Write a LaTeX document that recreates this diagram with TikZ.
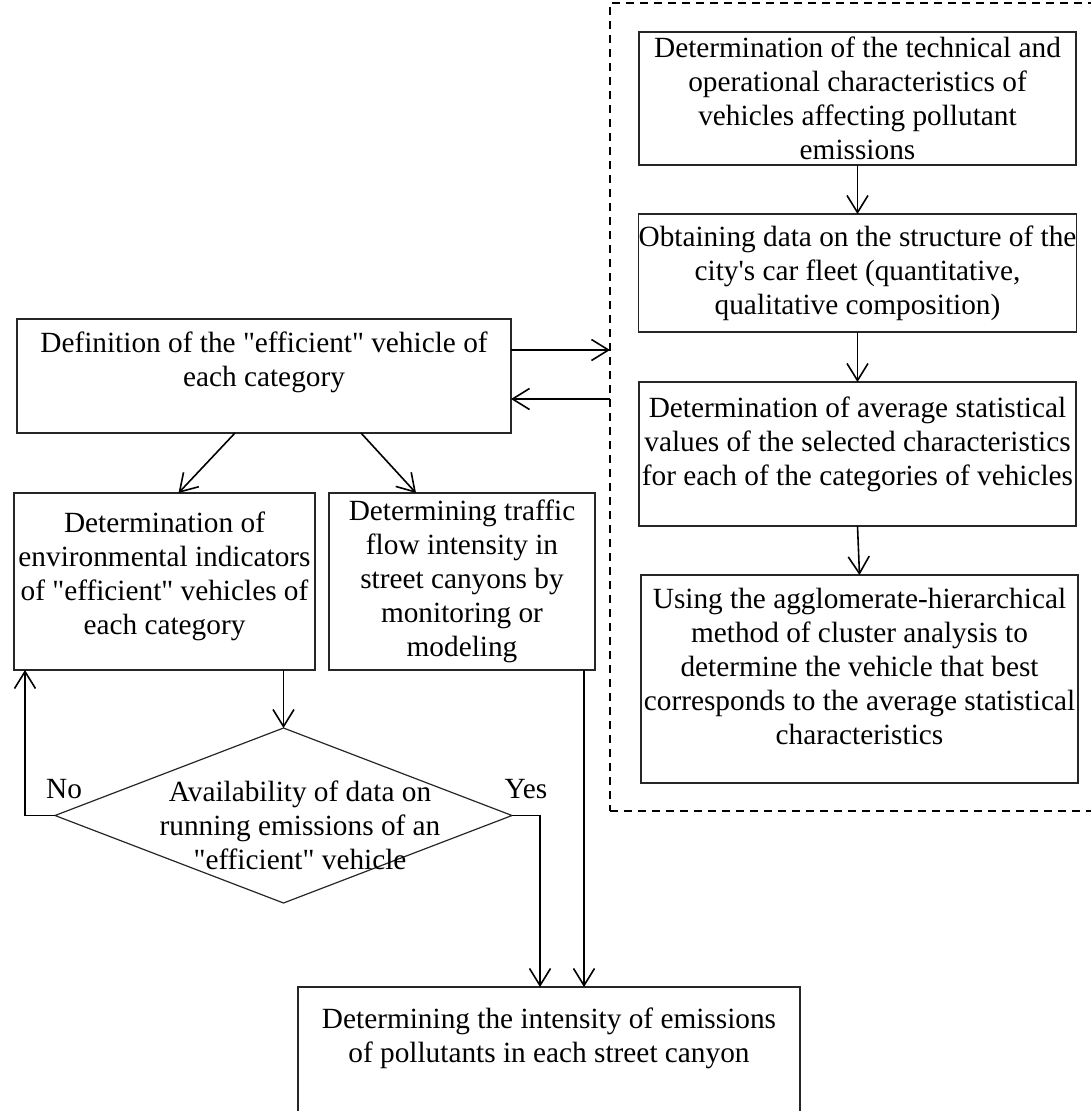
\documentclass[tikz,border=0pt]{standalone}
\usepackage{fontspec}
\setmainfont{Liberation Serif}[Ligatures=TeXOff]
\usetikzlibrary{arrows.meta,shapes.geometric}
\newcommand{\vpad}[1]{\\[#1]\mbox{}}
\begin{document}
\begin{tikzpicture}
        [x=1pt,y=-1pt,
        font=\fontsize{29.3}{34}\selectfont,
        box/.style={rectangle,draw=black!85,line width=1.2pt,inner sep=0pt,outer sep=0pt,align=center},
        decision/.style={diamond,draw=black!85,line width=1.2pt,inner sep=0pt,outer sep=0pt,
            minimum width=457pt,minimum height=175pt},
        group/.style={rectangle,draw=black,line width=1.6pt,dash pattern=on 8pt off 6pt,
            inner sep=0pt,outer sep=0pt,minimum width=490pt,minimum height=808pt},
        arr/.style={line width=1.6pt,-{Straight Barb[length=17pt,width=21pt,line width=1.6pt]}},
        line/.style={line width=1.6pt}]
        \useasboundingbox (0,0) rectangle (1090,1111);
        % dashed frame on the right
        \node[group] (frame) at (855,407) {};
        \node[box,minimum width=437pt,minimum height=133pt] (tech) at (857.5,98.5)
            {Determination of the technical and\\operational characteristics of\\vehicles affecting pollutant\\emissions};
        \node[box,minimum width=437pt,minimum height=118pt] (fleet) at (857.5,273)
            {Obtaining data on the structure of the\\city's car fleet (quantitative,\\qualitative composition)};
        \node[box,minimum width=437pt,minimum height=144pt] (avg) at (857.5,454)
            {Determination of average statistical\\values of the selected characteristics\\for each of the categories of vehicles\vpad{-8pt}};
        \node[box,minimum width=437pt,minimum height=208pt] (cluster) at (859.5,679)
            {Using the agglomerate-hierarchical\\method of cluster analysis to\\determine the vehicle that best\\corresponds to the average statistical\\characteristics\vpad{-8pt}};
        % left column
        \node[box,minimum width=494pt,minimum height=114pt] (defn) at (264,376)
            {Definition of the "efficient" vehicle of\\each category\vpad{0pt}};
        \node[box,minimum width=301pt,minimum height=177pt] (envi) at (164.5,581.5)
            {Determination of\\environmental indicators\\of "efficient" vehicles of\\each category\vpad{-17pt}};
        \node[box,minimum width=266pt,minimum height=177pt] (traffic) at (462,581.5)
            {Determining traffic\\flow intensity in\\street canyons by\\monitoring or\\modeling};
        \node[decision] (avail) at (283.5,815.5) {};
        \node[align=center] (availtext) at (300,825)
            {Availability of data on\\running emissions of an\\"efficient" vehicle};
        \node (no) at (64,789) {No};
        \node (yes) at (526,789) {Yes};
        \node[box,minimum width=502pt,minimum height=143pt] (emis) at (549,1058.5)
            {Determining the intensity of emissions\\of pollutants in each street canyon\vpad{13pt}};
        % connectors
        \draw[arr] (tech.south) -- (fleet.north);
        \draw[arr] (fleet.south) -- (avg.north);
        \draw[arr] (avg.south) -- (cluster.north);
        \draw[arr] ([yshift=26pt]defn.east) -- ([yshift=26pt]defn.east -| frame.west);
        \draw[arr] ([yshift=-23pt]defn.east -| frame.west) -- ([yshift=-23pt]defn.east);
        \draw[arr] ([xshift=-29pt]defn.south) -- ([xshift=14pt]envi.north);
        \draw[arr] ([xshift=97pt]defn.south) -- ([xshift=-46pt]traffic.north);
        \draw[arr] (avail.north |- envi.south) -- (avail.north);
        \draw[arr] (avail.west) -| ([xshift=11pt]envi.south west);
        \draw[arr] (avail.east) -| ([xshift=-9pt]emis.north);
        \draw[arr] ([xshift=-11pt]traffic.south east) -- ([xshift=-11pt]traffic.south east |- emis.north);
    \end{tikzpicture}
\end{document}
